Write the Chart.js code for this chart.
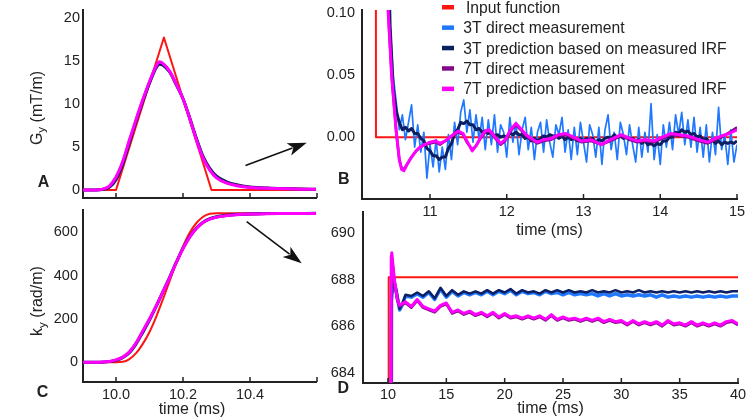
<!DOCTYPE html>
<html>
<head>
<meta charset="utf-8">
<script src="https://cdn.jsdelivr.net/npm/chart.js@4.4.0/dist/chart.umd.min.js"></script>
<style>
html,body{margin:0;padding:0;background:#fff;width:748px;height:420px;overflow:hidden;}
canvas{position:absolute;}
</style>
</head>
<body>
<canvas id="cA" width="330" height="205" style="left:0;top:0"></canvas>
<canvas id="cC" width="330" height="215" style="left:0;top:205px"></canvas>
<canvas id="cB" width="428" height="240" style="left:320px;top:0"></canvas>
<canvas id="cD" width="428" height="215" style="left:320px;top:205px"></canvas>
<script>
// ---------- series names ----------
const seriesNames = ['Input function', '3T direct measurement', '3T prediction based on measured IRF', '7T direct measurement', '7T prediction based on measured IRF'];

// ---------- Panel A : G_y (mT/m) vs time (ms) ----------
const tAin = [9.90, 10.00, 10.143, 10.285, 10.60];
const gAin = [0, 0, 17.7, 0, 0];
const tA = [9.90, 9.94, 9.96, 9.98, 10.00, 10.02, 10.04, 10.06, 10.08, 10.10, 10.12, 10.13, 10.14, 10.16, 10.18, 10.20, 10.22, 10.24, 10.26, 10.28, 10.30, 10.33, 10.36, 10.40, 10.45, 10.50, 10.55, 10.60];
const gA3D = [0, 0.02, 0.06, 0.32, 1.22, 3.05, 5.5, 8.05, 10.3, 12.45, 14.2, 14.65, 14.5, 13.75, 12.2, 10.65, 8.4, 6.05, 3.9, 2.5, 1.65, 0.95, 0.6, 0.36, 0.22, 0.16, 0.12, 0.08];
const gA3P = [0, 0, 0.05, 0.3, 1.2, 3.0, 5.5, 8.0, 10.3, 12.4, 14.2, 14.6, 14.5, 13.7, 12.2, 10.6, 8.4, 6.0, 3.9, 2.5, 1.6, 0.95, 0.6, 0.35, 0.22, 0.16, 0.11, 0.08];
const gA7D = [0, 0, 0.08, 0.42, 1.45, 3.25, 5.75, 8.15, 10.45, 12.55, 14.35, 14.85, 14.65, 13.75, 12.25, 10.6, 8.3, 5.85, 3.75, 2.35, 1.45, 0.85, 0.55, 0.32, 0.22, 0.16, 0.11, 0.08];
const gA7P = [0, 0, 0.1, 0.45, 1.5, 3.3, 5.8, 8.2, 10.5, 12.6, 14.4, 14.9, 14.7, 13.8, 12.3, 10.6, 8.3, 5.8, 3.7, 2.3, 1.4, 0.8, 0.5, 0.3, 0.2, 0.15, 0.1, 0.08];
const xTicksA = [10.0, 10.2, 10.4, 10.6];
const yTicksA = [0, 5, 10, 15, 20];

// ---------- Panel C : k_y (rad/m) vs time (ms) ----------
const tCin = [9.90, 10.00, 10.02, 10.04, 10.06, 10.08, 10.10, 10.12, 10.14, 10.16, 10.18, 10.20, 10.22, 10.24, 10.26, 10.28, 10.30, 10.60];
const kCin = [0, 0, 2, 15, 42, 85, 140, 210, 290, 375, 460, 535, 598, 643, 672, 686, 688, 688];
const tC = [9.90, 9.94, 9.96, 9.98, 10.00, 10.02, 10.04, 10.06, 10.08, 10.10, 10.12, 10.14, 10.16, 10.18, 10.20, 10.22, 10.24, 10.26, 10.28, 10.30, 10.33, 10.36, 10.40, 10.45, 10.50, 10.60];
const kC3D = [0, 0, 0.5, 3, 9, 21, 44, 85, 138, 196, 258, 325, 392, 462, 527, 580, 620, 647, 663, 672, 679, 683, 685, 686.5, 687, 687.4];
const kC3P = [0, 0, 0.5, 3, 9, 21, 44, 85, 138, 195, 258, 325, 392, 462, 527, 580, 620, 647, 663, 672, 679, 683, 685, 686.5, 687, 687.5];
const kC7D = [0, 0, 1, 4, 11, 24, 47, 89, 144, 200, 261, 326, 391, 460, 525, 578, 618, 645, 661, 670, 677, 681, 684, 686, 686.5, 687];
const kC7P = [0, 0, 1, 4, 11, 24, 48, 90, 145, 200, 260, 325, 390, 460, 525, 578, 618, 645, 661, 670, 677, 681, 684, 686, 686.5, 687];
const xTicksC = [10.0, 10.2, 10.4, 10.6];
const yTicksC = [0, 200, 400, 600];

// ---------- Panel B : zoom of G_y after the pulse ----------
const tBin = [10.143, 10.296, 15.0];
const gBin = [17.7, 0, 0];
const tB3 = [10.30, 10.44, 10.48,
  10.52, 10.56, 10.60, 10.64, 10.68, 10.72, 10.76, 10.80, 10.84, 10.88,
  10.92, 10.96, 11.00, 11.04, 11.08, 11.12, 11.16, 11.20, 11.24, 11.28,
  11.32, 11.36, 11.40, 11.44, 11.48, 11.52, 11.56, 11.60, 11.64, 11.68,
  11.72, 11.76, 11.80, 11.84, 11.88, 11.92, 11.96, 12.00, 12.04, 12.08,
  12.12, 12.16, 12.20, 12.24, 12.28, 12.32, 12.36, 12.40, 12.44, 12.48,
  12.52, 12.56, 12.60, 12.64, 12.68, 12.72, 12.76, 12.80, 12.84, 12.88,
  12.92, 12.96, 13.00, 13.04, 13.08, 13.12, 13.16, 13.20, 13.24, 13.28,
  13.32, 13.36, 13.40, 13.44, 13.48, 13.52, 13.56, 13.60, 13.64, 13.68,
  13.72, 13.76, 13.80, 13.84, 13.88, 13.92, 13.96, 14.00, 14.04, 14.08,
  14.12, 14.16, 14.20, 14.24, 14.28, 14.32, 14.36, 14.40, 14.44, 14.48,
  14.52, 14.56, 14.60, 14.64, 14.68, 14.72, 14.76, 14.80, 14.84, 14.88,
  14.92, 14.96, 15.00];
const gB3D = [0.6, 0.2, 0.09,
  0.050, 0.028, 0.006, 0.018, -0.002, 0.012, 0.026, -0.008, 0.010, -0.012,
  0.004, -0.033, -0.006, -0.024, -0.002, -0.028, -0.008, -0.026, 0.002, -0.018,
  0.012, -0.006, 0.020, 0.030, 0.004, 0.022, -0.004, 0.018, -0.002, 0.016,
  -0.010, 0.014, -0.006, 0.018, -0.012, 0.010, 0.004, -0.016, 0.016, -0.004,
  0.012, -0.014, 0.006, 0.016, -0.010, 0.008, -0.018, 0.004, 0.012, -0.012,
  0.014, -0.004, -0.016, 0.010, 0.002, 0.016, -0.012, 0.006, -0.018, 0.008,
  -0.014, 0.012, -0.004, -0.020, 0.010, 0.002, -0.016, 0.008, -0.022, 0.006,
  0.018, -0.010, 0.004, -0.018, 0.012, 0.002, -0.014, 0.010, -0.006, -0.020,
  0.008, -0.016, 0.004, -0.012, 0.027, -0.018, 0.002, -0.022, 0.010, -0.008,
  0.012, -0.010, 0.018, 0.002, 0.020, -0.006, 0.014, -0.008, 0.016, -0.012,
  0.008, -0.016, 0.010, -0.020, 0.004, -0.014, 0.024, -0.010, 0.002, -0.022,
  0.006, -0.020, -0.006];
const gB3P = [0.6, 0.2, 0.09,
  0.040, 0.021, 0.012, 0.006, 0.008, 0.005, 0.007, 0.003, 0.003, -0.001,
  -0.003, -0.009, -0.011, -0.015, -0.015, -0.018, -0.016, -0.016, -0.009, -0.005,
  0.003, 0.006, 0.012, 0.011, 0.013, 0.010, 0.010, 0.006, 0.007, 0.004,
  0.005, 0.003, 0.004, 0.001, 0.002, 0.000, 0.001, 0.000, 0.003, 0.002,
  0.004, 0.002, 0.002, -0.001, 0.000, -0.003, -0.001, -0.003, -0.001, 0.001,
  0.000, 0.002, 0.001, 0.001, -0.001, 0.001, -0.002, 0.000, -0.002, -0.001,
  -0.003, -0.001, -0.003, -0.001, -0.002, -0.001, -0.004, -0.002, -0.003, -0.001,
  0.000, -0.001, 0.002, 0.000, 0.001, -0.001, 0.000, -0.002, -0.001, -0.003,
  -0.002, -0.005, -0.003, -0.006, -0.005, -0.007, -0.005, -0.006, -0.003, -0.003,
  0.000, 0.000, 0.004, 0.003, 0.006, 0.004, 0.005, 0.002, 0.003, 0.000,
  0.001, -0.002, -0.001, -0.004, -0.002, -0.005, -0.003, -0.006, -0.004, -0.005,
  -0.004, -0.005, -0.003];
const tB7 = [10.30, 10.42, 10.456, 10.50, 10.52, 10.56, 10.60, 10.63, 10.66, 10.70, 10.76, 10.82, 10.87, 10.93, 11.00, 11.07, 11.13, 11.20, 11.26, 11.32, 11.37, 11.43, 11.48, 11.55, 11.60, 11.66, 11.72, 11.77, 11.85, 11.92, 11.98, 12.05, 12.12, 12.18, 12.25, 12.32, 12.40, 12.48, 12.58, 12.67, 12.77, 12.87, 12.97, 13.10, 13.23, 13.35, 13.49, 13.60, 13.70, 13.80, 13.92, 14.03, 14.14, 14.25, 14.36, 14.50, 14.62, 14.72, 14.80, 14.90, 15.00];
const gB7D = [0.6, 0.2, 0.10, 0.05, 0.034, 0.004, -0.018, -0.025, -0.026, -0.022, -0.016, -0.011, -0.008, -0.006, -0.005, -0.004, -0.006, -0.003, 0.0, 0.002, 0.004, 0.002, -0.004, -0.010, -0.007, -0.001, 0.004, 0.005, -0.001, -0.006, -0.003, 0.005, 0.010, 0.006, 0.001, -0.002, -0.005, -0.003, -0.002, 0.001, 0.002, -0.001, -0.004, -0.003, -0.006, -0.003, 0.001, -0.002, -0.004, -0.003, -0.004, -0.001, 0.002, 0.001, 0.000, -0.003, -0.005, -0.002, 0.000, 0.004, 0.008];
const gB7P = [0.6, 0.2, 0.10, 0.05, 0.035, 0.005, -0.018, -0.026, -0.027, -0.022, -0.016, -0.011, -0.008, -0.006, -0.004, -0.003, -0.005, -0.003, 0.0, 0.003, 0.005, 0.003, -0.003, -0.011, -0.007, 0.0, 0.005, 0.006, 0.0, -0.005, -0.002, 0.006, 0.011, 0.007, 0.002, -0.001, -0.004, -0.002, -0.001, 0.002, 0.003, 0.0, -0.003, -0.002, -0.006, -0.002, 0.002, -0.001, -0.003, -0.002, -0.003, 0.0, 0.003, 0.002, 0.001, -0.002, -0.004, -0.001, 0.001, 0.003, 0.006];
const xTicksB = [11, 12, 13, 14, 15];
const yTicksB = [0, 0.05, 0.10];

// ---------- Panel D : zoom of k_y plateau ----------
const tDin = [10.0, 10.06, 40.0];
const kDin = [600, 688.1, 688.1];
const tDu = [11.5, 12, 12.5, 13, 13.5, 14, 14.5, 15, 15.5, 16, 16.5, 17, 17.5, 18, 18.5, 19, 19.5, 20, 20.5, 21, 21.5, 22, 22.5, 23, 23.5, 24, 24.5, 25, 25.5, 26, 26.5, 27, 27.5, 28, 28.5, 29, 29.5, 30, 30.5, 31, 31.5, 32, 32.5, 33, 33.5, 34, 34.5, 35, 35.5, 36, 36.5, 37, 37.5, 38, 38.5, 39, 39.5, 40];
const tD3head = [10.05, 10.3, 10.45, 10.7, 11.0, 11.25];
const kD3Dhead = [600, 687.1, 688.05, 687.5, 686.7, 686.95];
const kD3Phead = [600, 687.2, 688.15, 687.6, 686.75, 687.0];
const tD7head = [10.05, 10.28, 10.32, 10.55, 10.8, 11.0];
const kD7Dhead = [600, 688.9, 689.05, 687.9, 687.1, 686.85];
const kD7Phead = [600, 689.0, 689.15, 688.0, 687.15, 686.9];
const kD3D = [687.3, 687.25, 687.4, 687.25, 687.45, 687.15, 687.6, 687.25, 687.5, 687.3, 687.45, 687.35, 687.45, 687.35, 687.5, 687.35, 687.5, 687.4, 687.55, 687.35, 687.5, 687.4, 687.45, 687.35, 687.5, 687.4, 687.45, 687.35, 687.45, 687.35, 687.4, 687.35, 687.4, 687.3, 687.4, 687.3, 687.4, 687.3, 687.35, 687.3, 687.35, 687.3, 687.35, 687.25, 687.35, 687.25, 687.3, 687.25, 687.3, 687.25, 687.3, 687.25, 687.3, 687.25, 687.3, 687.25, 687.3, 687.3];
const kD3P = [687.35, 687.3, 687.45, 687.3, 687.5, 687.2, 687.65, 687.3, 687.55, 687.35, 687.5, 687.4, 687.5, 687.4, 687.55, 687.4, 687.55, 687.45, 687.6, 687.4, 687.55, 687.45, 687.5, 687.4, 687.55, 687.45, 687.55, 687.45, 687.55, 687.45, 687.5, 687.45, 687.55, 687.45, 687.5, 687.45, 687.55, 687.45, 687.5, 687.45, 687.55, 687.45, 687.5, 687.45, 687.5, 687.45, 687.5, 687.45, 687.5, 687.45, 687.5, 687.45, 687.5, 687.45, 687.5, 687.45, 687.5, 687.5];
const kD7D = [687.0, 686.8, 687.1, 686.8, 686.7, 686.6, 686.85, 686.95, 686.55, 686.65, 686.5, 686.6, 686.45, 686.55, 686.4, 686.55, 686.35, 686.5, 686.35, 686.4, 686.3, 686.4, 686.3, 686.4, 686.25, 686.45, 686.25, 686.35, 686.25, 686.3, 686.2, 686.3, 686.2, 686.3, 686.15, 686.25, 686.15, 686.2, 686.05, 686.2, 686.05, 686.15, 686.05, 686.15, 686.0, 686.2, 686.05, 686.1, 686.0, 686.15, 686.0, 686.1, 686.0, 686.1, 686.0, 686.15, 686.2, 686.05];
const kD7P = [687.05, 686.85, 687.15, 686.85, 686.75, 686.65, 686.9, 687.0, 686.6, 686.7, 686.55, 686.65, 686.5, 686.6, 686.45, 686.6, 686.4, 686.55, 686.4, 686.45, 686.35, 686.45, 686.35, 686.45, 686.3, 686.5, 686.3, 686.4, 686.3, 686.35, 686.25, 686.35, 686.25, 686.35, 686.2, 686.3, 686.2, 686.25, 686.1, 686.25, 686.1, 686.2, 686.1, 686.2, 686.05, 686.25, 686.1, 686.15, 686.05, 686.2, 686.05, 686.15, 686.05, 686.15, 686.05, 686.2, 686.25, 686.1];
const xTicksD = [10, 15, 20, 25, 30, 35, 40];
const yTicksD = [684, 686, 688, 690];

// ---------- drawing ----------
const FONT = "'Liberation Sans', Arial, Helvetica, sans-serif";
const INK = '#222';
Chart.defaults.font.family = FONT;
Chart.defaults.color = INK;

const STYLE = [
  { c: '#ff1414', w: 2 },
  { c: '#1f78ff', w: 1.7 },
  { c: '#0c1f62', w: 3 },
  { c: '#820a84', w: 2.6 },
  { c: '#ff00ff', w: 3 }
];

function xy(ts, vs) { return ts.map((t, i) => ({ x: t, y: vs[i] })); }

function makeSets(list, smoothIdx, widths) {
  return list.map(([k, ts, vs]) => ({
    label: seriesNames[k],
    data: xy(ts, vs),
    borderColor: STYLE[k].c,
    backgroundColor: STYLE[k].c,
    borderWidth: (widths && widths[k]) || STYLE[k].w,
    pointRadius: 0, pointHoverRadius: 0, fill: false,
    tension: 0,
    cubicInterpolationMode: smoothIdx.includes(k) ? 'monotone' : 'default',
    borderJoinStyle: 'round',
    order: 5 - k
  }));
}

function axis(dir, o) {
  const isX = dir === 'x';
  return {
    type: 'linear', position: isX ? 'bottom' : 'left', min: o.min, max: o.max,
    afterBuildTicks: s => { s.ticks = o.ticks.map(v => ({ value: v })); },
    afterFit: s => {
      if (isX) s.height = o.size; else s.width = o.size;
      s.paddingLeft = 0; s.paddingRight = 0; s.paddingTop = 0; s.paddingBottom = 0;
    },
    ticks: {
      display: o.labels !== false, padding: o.pad, font: { size: 14.5 }, color: INK,
      maxRotation: 0, minRotation: 0, autoSkip: false,
      callback: v => (o.hide && o.hide.includes(v)) ? '' : (o.dec != null ? Number(v).toFixed(o.dec) : String(v))
    },
    grid: { display: true, drawOnChartArea: false, drawTicks: false },
    border: { display: true, color: INK, width: 2 },
    title: o.title ? { display: true, text: o.title, font: { size: 16 }, color: INK, padding: { top: 0, bottom: o.tpb } } : { display: false }
  };
}

function overlay(drawFn) {
  return {
    id: 'overlay',
    afterDraw(chart) {
      const ctx = chart.ctx, s = chart.scales.x;
      ctx.save();
      ctx.strokeStyle = INK; ctx.lineWidth = 1.5;
      s.ticks.forEach(t => {
        const p = s.getPixelForValue(t.value);
        ctx.beginPath(); ctx.moveTo(p, s.top); ctx.lineTo(p, s.top - 5); ctx.stroke();
      });
      ctx.restore();
      if (drawFn) { ctx.save(); drawFn(ctx, chart); ctx.restore(); }
    }
  };
}

function letter(ctx, txt, x, y) {
  ctx.font = 'bold 16px ' + FONT; ctx.fillStyle = INK;
  ctx.textAlign = 'center'; ctx.textBaseline = 'middle';
  ctx.fillText(txt, x, y);
}

function yTitle(ctx, cx, cy, main, sub, rest) {
  ctx.save();
  ctx.translate(cx, cy); ctx.rotate(-Math.PI / 2);
  const f1 = '16px ' + FONT, f2 = '11.5px ' + FONT;
  ctx.font = f1; const w1 = ctx.measureText(main).width, w3 = ctx.measureText(rest).width;
  ctx.font = f2; const w2 = ctx.measureText(sub).width;
  let x = -(w1 + w2 + w3) / 2;
  ctx.fillStyle = INK; ctx.textAlign = 'left'; ctx.textBaseline = 'middle';
  ctx.font = f1; ctx.fillText(main, x, 0); x += w1;
  ctx.font = f2; ctx.fillText(sub, x, 4.5); x += w2;
  ctx.font = f1; ctx.fillText(rest, x, 0);
  ctx.restore();
}

function arrow(ctx, x1, y1, x2, y2) {
  const a = Math.atan2(y2 - y1, x2 - x1), L = 19, W = 6.5;
  const ca = Math.cos(a), sa = Math.sin(a);
  ctx.strokeStyle = '#111'; ctx.fillStyle = '#111'; ctx.lineWidth = 1.6;
  ctx.beginPath(); ctx.moveTo(x1, y1); ctx.lineTo(x2 - L * 0.8 * ca, y2 - L * 0.8 * sa); ctx.stroke();
  ctx.beginPath();
  ctx.moveTo(x2, y2);
  ctx.lineTo(x2 - L * ca + W * sa, y2 - L * sa - W * ca);
  ctx.lineTo(x2 - L * 0.75 * ca, y2 - L * 0.75 * sa);
  ctx.lineTo(x2 - L * ca - W * sa, y2 - L * sa + W * ca);
  ctx.closePath(); ctx.fill();
}

function makeChart(id, sets, xo, yo, pad, draw) {
  return new Chart(document.getElementById(id), {
    type: 'line',
    data: { datasets: sets },
    options: {
      responsive: false, animation: false, events: [],
      layout: { padding: pad },
      scales: { x: axis('x', xo), y: axis('y', yo) },
      plugins: { legend: { display: false }, tooltip: { enabled: false } }
    },
    plugins: [overlay(draw)]
  });
}

// Panel A
makeChart('cA',
  makeSets([[0, tAin, gAin], [1, tA, gA3D], [2, tA, gA3P], [3, tA, gA7D], [4, tA, gA7P]], [1, 2, 3, 4]),
  { min: 9.9015, max: 10.597, ticks: xTicksA, labels: false, size: 7, pad: 0 },
  { min: -0.93, max: 20.9, ticks: yTicksA, size: 83, pad: 3 },
  { left: 0, right: 14, top: 10, bottom: 0 },
  (ctx) => {
    letter(ctx, 'A', 43.5, 182.5);
    yTitle(ctx, 37.5, 108, 'G', 'y', ' (mT/m)');
    arrow(ctx, 245.5, 165.5, 306.7, 142.7);
  });

// Panel C
makeChart('cC',
  makeSets([[0, tCin, kCin], [1, tC, kC3D], [2, tC, kC3P], [3, tC, kC7D], [4, tC, kC7P]], [0, 1, 2, 3, 4]),
  { min: 9.9015, max: 10.597, ticks: xTicksC, hide: [10.6], dec: 1, size: 38, pad: 4 },
  { min: -91, max: 703, ticks: yTicksC, size: 83, pad: 5 },
  { left: 0, right: 14, top: 5, bottom: 0 },
  (ctx) => {
    letter(ctx, 'C', 42.5, 187.5);
    yTitle(ctx, 38, 96, 'k', 'y', ' (rad/m)');
    ctx.font = '16px ' + FONT; ctx.fillStyle = INK; ctx.textAlign = 'center'; ctx.textBaseline = 'middle';
    ctx.fillText('time (ms)', 192, 204.5);
    arrow(ctx, 246.7, 16.7, 301.7, 58.3);
  });

// Panel B
makeChart('cB',
  makeSets([[0, tBin, gBin], [1, tB3, gB3D], [2, tB3, gB3P], [3, tB7, gB7D], [4, tB7, gB7P]], []),
  { min: 10.114, max: 15, ticks: xTicksB, size: 41, pad: 4, title: 'time (ms)', tpb: 0 },
  { min: -0.0498, max: 0.1025, ticks: yTicksB, dec: 2, size: 42, pad: 7 },
  { left: 0, right: 11, top: 10, bottom: 0 },
  (ctx) => {
    letter(ctx, 'B', 23.7, 179.5);
    ctx.font = '15.7px ' + FONT; ctx.textAlign = 'left'; ctx.textBaseline = 'alphabetic';
    seriesNames.forEach((n, i) => {
      const cy = 7 + 20.4 * i;
      ctx.fillStyle = STYLE[i].c; ctx.fillRect(122, cy - 2, 12, 4.5);
      ctx.fillStyle = INK; ctx.fillText(n, i === 0 ? 146 : 143.3, cy + 5.8);
    });
  });

// Panel D
makeChart('cD',
  makeSets([[0, tDin, kDin], [1, tD3head.concat(tDu), kD3Dhead.concat(kD3D)], [2, tD3head.concat(tDu), kD3Phead.concat(kD3P)],
            [3, tD7head.concat(tDu), kD7Dhead.concat(kD7D)], [4, tD7head.concat(tDu), kD7Phead.concat(kD7P)]], [], { 1: 3.5, 2: 2.5 }),
  { min: 7.857, max: 40, ticks: xTicksD, size: 37, pad: 3, title: 'time (ms)', tpb: 2 },
  { min: 683.57, max: 690.9, ticks: yTicksD, size: 43, pad: 8 },
  { left: 0, right: 10, top: 7, bottom: 0 },
  (ctx) => {
    letter(ctx, 'D', 23.3, 184);
  });
</script>
</body>
</html>
